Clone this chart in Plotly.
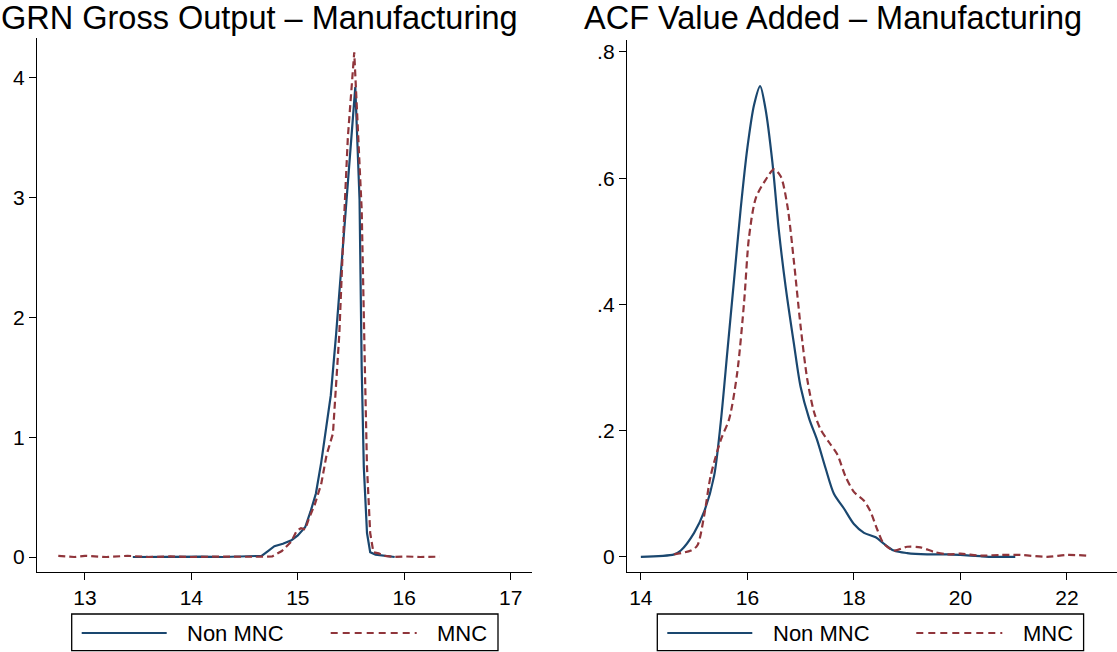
import plotly.graph_objects as go

W, H = 1117, 652

# ---------------- data ----------------
titles = ["GRN Gross Output \u2013 Manufacturing", "ACF Value Added \u2013 Manufacturing"]
series_names = ["Non MNC", "MNC"]

gross_nonmnc_x = [13.45, 13.7, 13.9, 14.1, 14.3, 14.5, 14.66, 14.72, 14.78, 14.86, 14.94, 15.0,
                  15.07, 15.12, 15.17, 15.22, 15.26, 15.31, 15.36, 15.41, 15.455, 15.5, 15.54,
                  15.56, 15.58, 15.6, 15.62, 15.65, 15.68, 15.73, 15.8, 15.91]
gross_nonmnc_y = [0.0, 0.003, 0.0, 0.004, 0.0, 0.003, 0.01, 0.05, 0.09, 0.11, 0.14, 0.18,
                  0.25, 0.38, 0.53, 0.79, 1.03, 1.35, 1.86, 2.45, 2.98, 3.5, 3.92,
                  3.45, 2.98, 1.58, 0.75, 0.2, 0.04, 0.02, 0.01, 0.0]

gross_mnc_x = [12.75, 12.9, 13.0, 13.2, 13.4, 13.6, 13.8, 14.0, 14.2, 14.4, 14.6, 14.76, 14.85,
               14.94, 14.99, 15.03, 15.07, 15.1, 15.16, 15.22, 15.27, 15.33, 15.39, 15.43, 15.47,
               15.53, 15.56, 15.6, 15.63, 15.65, 15.68, 15.71, 15.76, 15.82, 15.9, 16.0, 16.15, 16.33]
gross_mnc_y = [0.01, 0.0, 0.01, 0.0, 0.01, 0.0, 0.005, 0.0, 0.003, 0.0, 0.002, 0.005, 0.05,
               0.13, 0.22, 0.24, 0.23, 0.31, 0.44, 0.61, 0.85, 1.03, 1.86, 2.73, 3.5,
               4.21, 3.6, 2.9, 1.58, 0.75, 0.2, 0.04, 0.03, 0.01, 0.0, 0.005, 0.0, 0.003]

va_nonmnc_x = [14.0, 14.625, 14.75, 15.0, 15.19, 15.375, 15.5, 15.625, 15.75, 15.875, 16.0, 16.125,
               16.24, 16.34, 16.47, 16.59, 16.72, 16.875, 17.0, 17.16, 17.31, 17.47, 17.625, 17.81,
               18.0, 18.19, 18.41, 18.56, 18.75, 19.0, 19.375, 19.75, 20.0, 20.375, 20.625, 21.03]
va_nonmnc_y = [0.0, 0.004, 0.01, 0.038, 0.072, 0.128, 0.213, 0.326, 0.439, 0.552, 0.648, 0.716,
               0.746, 0.71, 0.625, 0.518, 0.427, 0.337, 0.269, 0.219, 0.185, 0.14, 0.10, 0.077,
               0.052, 0.038, 0.031, 0.021, 0.01, 0.006, 0.004, 0.004, 0.003, 0.001, 0.0, 0.0]

va_mnc_x = [14.625, 14.94, 15.06, 15.19, 15.31, 15.5, 15.66, 15.81, 15.94, 16.03, 16.16, 16.34,
            16.5, 16.625, 16.75, 16.875, 17.0, 17.125, 17.25, 17.375, 17.53, 17.69, 17.84, 18.0,
            18.19, 18.31, 18.44, 18.56, 18.75, 19.0, 19.25, 19.5, 19.75, 20.0, 20.375, 20.75,
            21.125, 21.625, 22.0, 22.375]
va_mnc_y = [0.004, 0.01, 0.018, 0.066, 0.128, 0.185, 0.219, 0.292, 0.405, 0.506, 0.569, 0.597,
            0.614, 0.603, 0.557, 0.467, 0.365, 0.281, 0.23, 0.202, 0.182, 0.162, 0.128, 0.103,
            0.089, 0.072, 0.043, 0.021, 0.01, 0.016, 0.015, 0.008, 0.004, 0.005, 0.002, 0.003,
            0.003, 0.0, 0.003, 0.002]

left_xticks = [13, 14, 15, 16, 17]
left_yticks = [0, 1, 2, 3, 4]
left_ytick_labels = ["0", "1", "2", "3", "4"]
right_xticks = [14, 16, 18, 20, 22]
right_yticks = [0, 0.2, 0.4, 0.6, 0.8]
right_ytick_labels = ["0", ".2", ".4", ".6", ".8"]

# ---------------- styling ----------------
NAVY = "#1a476f"
MAROON = "#90353b"
FONT = "Liberation Sans, Arial, Helvetica, sans-serif"
DASH = "7px,4px"


def px(x):
    return x / W


def py(y):
    return 1 - y / H


fig = go.Figure()

fig.add_trace(go.Scatter(x=gross_nonmnc_x, y=gross_nonmnc_y, mode="lines", name=series_names[0],
                         line=dict(color=NAVY, width=2.2), xaxis="x", yaxis="y", showlegend=False))
fig.add_trace(go.Scatter(x=gross_mnc_x, y=gross_mnc_y, mode="lines", name=series_names[1],
                         line=dict(color=MAROON, width=2.2, dash=DASH), xaxis="x", yaxis="y",
                         showlegend=False))
fig.add_trace(go.Scatter(x=va_nonmnc_x, y=va_nonmnc_y, mode="lines", name=series_names[0],
                         line=dict(color=NAVY, width=2.2, shape="spline", smoothing=0.8),
                         xaxis="x2", yaxis="y2", showlegend=False))
fig.add_trace(go.Scatter(x=va_mnc_x, y=va_mnc_y, mode="lines", name=series_names[1],
                         line=dict(color=MAROON, width=2.2, dash=DASH, shape="spline", smoothing=0.8),
                         xaxis="x2", yaxis="y2", showlegend=False))

axis_common = dict(showline=True, linecolor="black", linewidth=1.4, ticks="outside",
                   ticklen=7, tickwidth=1.4, tickcolor="black", showgrid=False, zeroline=False,
                   tickfont=dict(family=FONT, size=21, color="black"), automargin=False,
                   mirror=False)

fig.update_layout(
    width=W, height=H,
    margin=dict(l=0, r=0, t=0, b=0),
    paper_bgcolor="white", plot_bgcolor="white",
    xaxis=dict(domain=[px(37), px(532)], range=[12.55, 17.2], tickvals=left_xticks,
               anchor="y", **axis_common),
    yaxis=dict(domain=[py(572), py(38)], range=[-0.125, 4.33], tickvals=left_yticks,
               ticktext=left_ytick_labels, anchor="x", **axis_common),
    xaxis2=dict(domain=[px(627), 1.0], range=[13.74, 22.94], tickvals=right_xticks,
                anchor="y2", **axis_common),
    yaxis2=dict(domain=[py(572), py(40)], range=[-0.024, 0.819], tickvals=right_yticks,
                ticktext=right_ytick_labels, anchor="x2", **axis_common),
)

# titles
for t, x0 in zip(titles, [-1, 582]):
    fig.add_annotation(text=t, xref="paper", yref="paper", x=px(x0), y=py(18),
                       xanchor="left", yanchor="middle", showarrow=False,
                       font=dict(family=FONT, size=32.5, color="black"))

# legends (one per panel)
for off in [0, 585.6]:
    fig.add_shape(type="rect", xref="paper", yref="paper",
                  x0=px(71.7 + off), x1=px(498 + off), y0=py(650.7), y1=py(614),
                  line=dict(color="black", width=1.3), fillcolor="white")
    fig.add_shape(type="line", xref="paper", yref="paper",
                  x0=px(81.7 + off), x1=px(166.7 + off), y0=py(633), y1=py(633),
                  line=dict(color=NAVY, width=2))
    fig.add_shape(type="line", xref="paper", yref="paper",
                  x0=px(330.7 + off), x1=px(416.7 + off), y0=py(633), y1=py(633),
                  line=dict(color=MAROON, width=2, dash="7px,5px"))
    for name, lx in zip(series_names, [185, 435]):
        fig.add_annotation(text=name, xref="paper", yref="paper", x=px(lx + off), y=py(633),
                           xanchor="left", yanchor="middle", showarrow=False,
                           font=dict(family=FONT, size=22, color="black"))

fig.write_html("out.html", config={"displayModeBar": False},
               post_script="document.body.style.margin='0';")
